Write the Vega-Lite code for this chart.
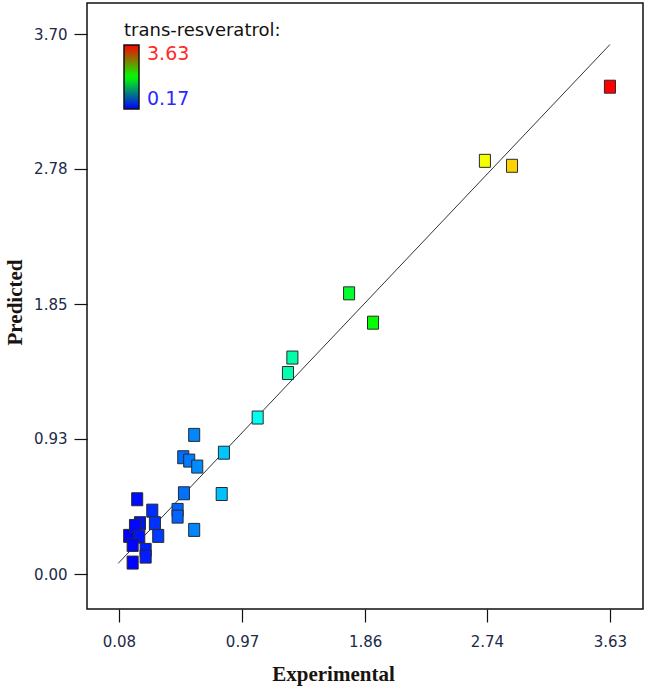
{
  "$schema": "https://vega.github.io/schema/vega-lite/v6.json",
  "width": 556,
  "height": 606,
  "autosize": {"type": "none"},
  "padding": {"left": 87, "top": 3, "right": 2, "bottom": 77},
  "background": "white",
  "config": {
    "view": {"stroke": "#111", "strokeWidth": 1.5},
    "axis": {
      "grid": false,
      "domain": false,
      "tickSize": 13,
      "tickColor": "#111",
      "tickWidth": 1.2,
      "labelFont": "DejaVu Sans",
      "labelFontSize": 15,
      "labelColor": "#1c2a48",
      "titleFont": "Liberation Serif",
      "titleFontWeight": "bold",
      "titleFontSize": 21,
      "titleColor": "#1a1410"
    }
  },
  "data": {
    "values": [
      {"Experimental": 3.630, "Predicted": 3.341},
      {"Experimental": 2.726, "Predicted": 2.833},
      {"Experimental": 2.922, "Predicted": 2.799},
      {"Experimental": 1.744, "Predicted": 1.925},
      {"Experimental": 1.917, "Predicted": 1.724},
      {"Experimental": 1.334, "Predicted": 1.485},
      {"Experimental": 1.302, "Predicted": 1.379},
      {"Experimental": 1.083, "Predicted": 1.074},
      {"Experimental": 0.624, "Predicted": 0.955},
      {"Experimental": 0.839, "Predicted": 0.833},
      {"Experimental": 0.545, "Predicted": 0.802},
      {"Experimental": 0.588, "Predicted": 0.779},
      {"Experimental": 0.646, "Predicted": 0.738},
      {"Experimental": 0.550, "Predicted": 0.555},
      {"Experimental": 0.823, "Predicted": 0.550},
      {"Experimental": 0.212, "Predicted": 0.514},
      {"Experimental": 0.321, "Predicted": 0.436},
      {"Experimental": 0.504, "Predicted": 0.441},
      {"Experimental": 0.504, "Predicted": 0.395},
      {"Experimental": 0.340, "Predicted": 0.350},
      {"Experimental": 0.232, "Predicted": 0.350},
      {"Experimental": 0.624, "Predicted": 0.304},
      {"Experimental": 0.364, "Predicted": 0.263},
      {"Experimental": 0.154, "Predicted": 0.263},
      {"Experimental": 0.196, "Predicted": 0.331},
      {"Experimental": 0.227, "Predicted": 0.258},
      {"Experimental": 0.273, "Predicted": 0.167},
      {"Experimental": 0.179, "Predicted": 0.201},
      {"Experimental": 0.273, "Predicted": 0.121},
      {"Experimental": 0.179, "Predicted": 0.080}
    ]
  },
  "layer": [
    {
      "data": {"values": [{"v": 0.075}, {"v": 3.63}]},
      "mark": {"type": "line", "color": "#333", "strokeWidth": 1},
      "encoding": {
        "x": {
          "field": "v",
          "type": "quantitative",
          "title": "Experimental",
          "scale": {"domain": [-0.151, 3.869], "nice": false, "zero": false},
          "axis": {"values": [0.08, 0.97, 1.86, 2.74, 3.63], "format": ".2f", "labelPadding": 12, "titlePadding": 14, "titleX": 246, "titleAlign": "center"}
        },
        "y": {
          "field": "v",
          "type": "quantitative",
          "title": "Predicted",
          "scale": {"domain": [-0.238, 3.9145], "nice": false, "zero": false},
          "axis": {"values": [0, 0.93, 1.85, 2.78, 3.7], "format": ".2f", "labelPadding": 7, "titlePadding": 8, "titleY": 299}
        }
      }
    },
    {
      "data": {"values": [{"t": 0.17, "v": 0.17}, {"t": 3.63, "v": 0.17}]},
      "mark": {"type": "square", "size": 0, "strokeWidth": 0, "opacity": 0},
      "encoding": {
        "x": {"field": "v", "type": "quantitative"},
        "y": {"field": "v", "type": "quantitative"},
        "fill": {
          "field": "t",
          "type": "quantitative",
          "title": "trans-resveratrol:",
          "scale": {"domain": [0.17, 3.63], "range": ["#0000ff", "#00ff00", "#ff0000"], "interpolate": "rgb"},
          "legend": {
            "type": "gradient",
            "direction": "vertical",
            "orient": "none",
            "legendX": 37,
            "legendY": 19,
            "values": [0.17, 3.63],
            "format": ".2f",
            "titleFont": "DejaVu Sans",
            "titleFontSize": 18,
            "titleFontWeight": "normal",
            "titleColor": "#111",
            "titlePadding": 5,
            "gradientLength": 64,
            "gradientThickness": 15,
            "gradientOpacity": 1,
            "gradientStrokeColor": "#111",
            "gradientStrokeWidth": 1.5,
            "labelFont": "DejaVu Sans",
            "labelFontSize": 19,
            "labelOffset": 8,
            "labelOverlap": false,
            "encode": {
              "labels": {"update": {"fill": {"signal": "datum.value > 1 ? '#ff2a2a' : '#2a2aff'"}}},
              "gradient": {"update": {"opacity": {"value": 1}}}
            }
          }
        }
      }
    },
    {
      "mark": {
        "type": "point",
        "shape": "M-0.85,-1H0.85V1H-0.85Z",
        "size": 169,
        "filled": true,
        "opacity": 1,
        "stroke": "#2a2a2a",
        "strokeWidth": 1
      },
      "encoding": {
        "x": {"field": "Experimental", "type": "quantitative"},
        "y": {"field": "Predicted", "type": "quantitative"},
        "stroke": {"value": "#2a2a2a"},
        "color": {
          "field": "Experimental",
          "type": "quantitative",
          "scale": {"domain": [0.17, 3.63], "range": ["#0000ff", "#00ffff", "#00ff00", "#ffff00", "#ff0000"], "interpolate": "rgb"},
          "legend": null
        }
      }
    }
  ]
}
